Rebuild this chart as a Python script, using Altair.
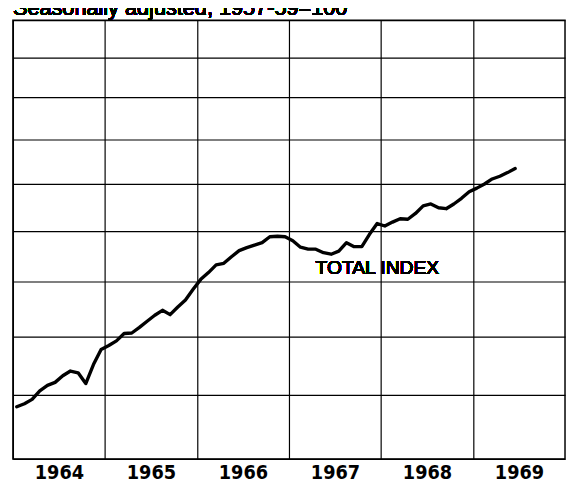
import altair as alt
import pandas as pd

# ---- data (ratio scale, 1957-59=100) ----
years = [1964, 1965, 1966, 1967, 1968, 1969]
first_year = 1964
n_months = 66  # Jan 1964 .. Jun 1969

index_values = [
    118.1, 118.6, 119.3, 120.7, 121.6, 122.1, 123.2, 124.0, 123.7, 121.9, 125.1, 127.7,  # 1964
    128.4, 129.2, 130.5, 130.6, 131.6, 132.7, 133.8, 134.7, 133.9, 135.3, 136.6, 138.6,  # 1965
    140.5, 141.8, 143.3, 143.6, 144.9, 146.1, 146.7, 147.2, 147.7, 148.9, 149.0, 148.9,  # 1966
    148.1, 146.8, 146.4, 146.4, 145.7, 145.4, 146.0, 147.7, 146.9, 146.9, 149.4, 151.6,  # 1967
    151.1, 151.9, 152.6, 152.5, 153.7, 155.3, 155.7, 154.9, 154.7, 155.7, 156.9, 158.3,  # 1968
    159.1, 160.0, 161.1, 161.7, 162.5, 163.4,                                            # 1969
]
grid_values = [110, 120, 130, 140, 150, 160, 170, 180, 190, 200]
title_text = "Seasonally adjusted, 1957-59=100"
series_label = "TOTAL INDEX"

# month mid-points as fractional years
month_pos = [first_year + (i + 0.5) / 12 for i in range(n_months)]
df = pd.DataFrame({"t": month_pos, "value": index_values})

x_enc = alt.X(
    "t:Q",
    scale=alt.Scale(domain=[1964, 1970], nice=False, zero=False),
    axis=alt.Axis(
        values=years, format="d", title=None, grid=True, ticks=False, tickSize=0,
        domain=False, labelOffset=46.67, labelPadding=4, labelAlign="center",
        labelFont="DejaVu Sans Condensed", labelFontSize=20, labelFontWeight="bold",
        labelColor="black", gridColor="black", gridWidth=1.2, gridOpacity=1,
    ),
)
y_enc = alt.Y(
    "value:Q",
    scale=alt.Scale(type="log", domain=[110, 200], nice=False, zero=False),
    axis=alt.Axis(
        values=grid_values, labels=False, ticks=False, domain=False, title=None,
        grid=True, gridColor="black", gridWidth=1.2, gridOpacity=1,
    ),
)

line = alt.Chart(df).mark_line(
    color="black", strokeWidth=3.4, strokeJoin="round", strokeCap="round"
).encode(x=x_enc, y=y_enc)

label = alt.Chart(df).mark_text(
    text=series_label, font="Liberation Sans", fontSize=19.5, color="black",
    align="center", baseline="middle",
).encode(x=alt.datum(1967.96), y=alt.datum(142.7))

title = alt.Chart(df).mark_text(
    text=title_text, font="Liberation Sans", fontSize=22, color="black",
    align="left", baseline="alphabetic",
).encode(x=alt.value(0), y=alt.value(-5))

chart = (
    alt.layer(line, label, title)
    .properties(
        width=560, height=445,
        padding={"left": 5, "top": 9, "right": 1, "bottom": 22},
        autosize=alt.AutoSizeParams(type="none"),
    )
    .configure_view(stroke="black", strokeWidth=1.5)
)

chart.save("out.html", embed_options={"renderer": "svg", "actions": False})
